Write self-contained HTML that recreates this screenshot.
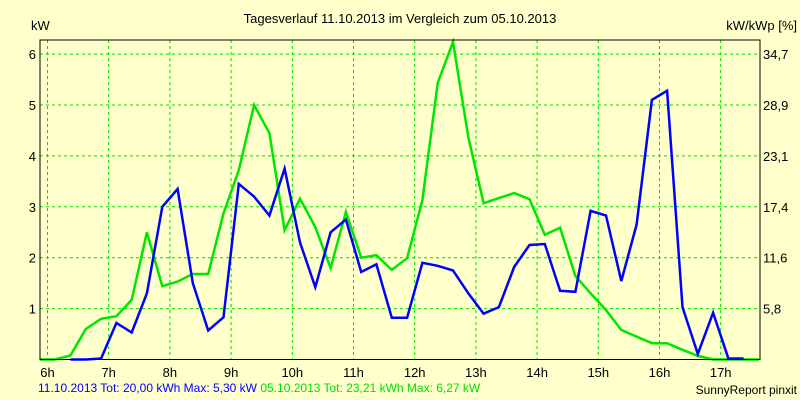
<!DOCTYPE html>
<html><head><meta charset="utf-8"><style>
html,body{margin:0;padding:0;background:#ffffcc;}
svg{display:block;font-family:"Liberation Sans",Arial,sans-serif;}
</style></head><body>
<svg id="chart" width="800" height="400" viewBox="0 0 800 400">
<rect x="0" y="0" width="800" height="400" fill="#ffffcc"/>
<text x="400" y="23" font-size="13" text-anchor="middle" fill="#000">Tagesverlauf 11.10.2013 im Vergleich zum 05.10.2013</text>
<text x="31" y="30" font-size="13" fill="#000">kW</text>
<text x="797" y="30" font-size="13" text-anchor="end" fill="#000">kW/kWp [%]</text>
<g id="grid"></g>
<g id="series"></g>
<rect x="40" y="40" width="720" height="319.5" fill="none" stroke="#000" stroke-width="1"/>
<g id="labels" font-size="13" fill="#000"></g>
<text x="38" y="392" font-size="12"><tspan fill="#0000ff">11.10.2013 Tot: 20,00 kWh Max: 5,30 kW </tspan><tspan fill="#00e000">05.10.2013 Tot: 23,21 kWh Max: 6,27 kW</tspan></text>
<text x="797" y="394" font-size="12" text-anchor="end" fill="#000">SunnyReport pinxit</text>
</svg>
<script>
const hourTicks = [6,7,8,9,10,11,12,13,14,15,16,17];
const kwTicks = [1,2,3,4,5,6];
const pctLabels = ["5,8","11,6","17,4","23,1","28,9","34,7"];
const startTime = 5.875;
const stepHours = 0.25;
const blueStart = 2;
const blueValues = [0,0,0.02,0.72,0.53,1.3,3.0,3.35,1.5,0.57,0.83,3.45,3.2,2.83,3.75,2.3,1.42,2.5,2.75,1.72,1.87,0.82,0.82,1.9,1.84,1.75,1.3,0.9,1.03,1.82,2.25,2.27,1.35,1.33,2.92,2.83,1.54,2.65,5.1,5.28,1.03,0.11,0.92,0.02,0.02];
const greenValues = [0,0,0.08,0.6,0.8,0.85,1.17,2.5,1.44,1.53,1.68,1.68,2.87,3.72,5.0,4.45,2.54,3.16,2.6,1.8,2.9,2.0,2.05,1.76,1.99,3.13,5.43,6.24,4.37,3.07,3.17,3.27,3.15,2.45,2.59,1.64,1.3,0.97,0.58,0.45,0.32,0.32,0.19,0.07,0,0,0,0];

const NS="http://www.w3.org/2000/svg";
function xs(h){return 47.5+61.2*(h-6);}
function ys(v){return 359.5-50.9*v;}
function mk(tag,attrs,parent){const e=document.createElementNS(NS,tag);for(const k in attrs)e.setAttribute(k,attrs[k]);parent.appendChild(e);return e;}
const grid=document.getElementById('grid'), lab=document.getElementById('labels'), ser=document.getElementById('series');
hourTicks.forEach(h=>{
  const l=mk('line',{x1:xs(h),x2:xs(h),y1:40,y2:359.5,stroke:'#00dd00','stroke-dasharray':'3,3','stroke-width':1},grid);
  
  
  const t=mk('text',{x:xs(h),y:377,'text-anchor':'middle'},lab);
  t.textContent=h+'h';
  
  
});
kwTicks.forEach((v,i)=>{
  const l=mk('line',{x1:40,x2:760,y1:ys(v),y2:ys(v),stroke:'#00dd00','stroke-dasharray':'3,3','stroke-width':1},grid);
  
  
  const t=mk('text',{x:36,y:ys(v)+5,'text-anchor':'end'},lab);
  t.textContent=v;
  
  
  const r=mk('text',{x:763,y:ys(v)+5},lab);
  r.textContent=pctLabels[i];
  
  
});
function pts(vals,start){return vals.map((v,i)=>xs(startTime+stepHours*(i+start)).toFixed(1)+','+ys(v).toFixed(1)).join(' ');}
const g=mk('polyline',{points:pts(greenValues,0),fill:'none',stroke:'#00e600','stroke-width':2.5,'stroke-linejoin':'miter'},ser);


const b=mk('polyline',{points:pts(blueValues,blueStart),fill:'none',stroke:'#0000ff','stroke-width':2.5,'stroke-linejoin':'miter'},ser);


</script>
</body></html>
